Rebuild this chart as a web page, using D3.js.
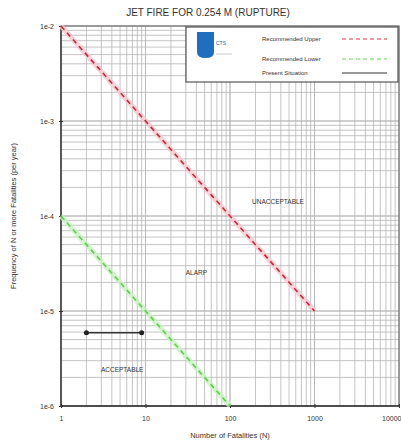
<!DOCTYPE html>
<html><head><meta charset="utf-8">
<script src="https://cdn.jsdelivr.net/npm/d3@7"></script>
<style>body{margin:0;background:#fff;}svg{display:block;font-family:"Liberation Sans",Arial,sans-serif;}</style>
</head><body>
<svg id="c" width="401" height="445"></svg>
<script>
const title = "JET FIRE FOR 0.254 M (RUPTURE)";
const xTicks = [1, 10, 100, 1000, 10000];
const yTicks = [1e-2, 1e-3, 1e-4, 1e-5, 1e-6];
const yTickLabels = ["1e-2", "1e-3", "1e-4", "1e-5", "1e-6"];
const upperN = [1, 1000];
const upperF = [1e-2, 1e-5];
const lowerN = [1, 100];
const lowerF = [1e-4, 1e-6];
const presentN = [2, 9];
const presentF = [5.9e-6, 5.9e-6];
const regionLabels = ["UNACCEPTABLE", "ALARP", "ACCEPTABLE"];
const regionN = [370, 40, 5.3];
const regionF = [1.38e-4, 2.5e-5, 2.35e-6];
const legendLabels = ["Recommended Upper", "Recommended Lower", "Present Situation"];

const svg = d3.select("#c");
const m = {l: 61, r: 399, t: 26, b: 406};
const x = d3.scaleLog().domain([1, 10000]).range([m.l, m.r]);
const y = d3.scaleLog().domain([1e-6, 1e-2]).range([m.b, m.t]);

// minor grid
const g = svg.append("g");
const xMinor = [];
for (let d = 1; d < 10000; d *= 10) for (let k = 1; k <= 10; k++) xMinor.push(d * k);
const yMinor = [];
for (let d = 1e-6; d < 1e-2 * 0.999; d *= 10) for (let k = 1; k <= 10; k++) yMinor.push(d * k);
g.selectAll(".xg").data(xMinor).enter().append("line")
  .attr("x1", d => x(d)).attr("x2", d => x(d)).attr("y1", m.t).attr("y2", m.b)
  .attr("stroke", "#b5b5b5").attr("stroke-width", 0.8);
g.selectAll(".yg").data(yMinor).enter().append("line")
  .attr("y1", d => y(d)).attr("y2", d => y(d)).attr("x1", m.l).attr("x2", m.r)
  .attr("stroke", "#b5b5b5").attr("stroke-width", 0.8);

// frame
svg.append("rect").attr("x", m.l).attr("y", m.t).attr("width", m.r - m.l).attr("height", m.b - m.t)
  .attr("fill", "none").attr("stroke", "#555").attr("stroke-width", 1);
svg.append("line").attr("x1", m.l).attr("x2", m.l).attr("y1", m.t).attr("y2", m.b).attr("stroke", "#333").attr("stroke-width", 1.3);
svg.append("line").attr("x1", m.l).attr("x2", m.r).attr("y1", m.b).attr("y2", m.b).attr("stroke", "#333").attr("stroke-width", 1.3);

// axes
const xAxis = d3.axisBottom(x).tickValues(xTicks).tickFormat(d3.format("d")).tickSize(4);
const xa = svg.append("g").attr("transform", `translate(0,${m.b})`).call(xAxis);
xa.select(".domain").remove();
xa.selectAll("text").attr("font-size", 7).attr("fill", "#333").attr("dy", "1.1em")
  .attr("text-anchor", d => d === 10000 ? "end" : "middle").attr("x", d => d === 10000 ? 2 : 0);
xa.selectAll("line").attr("stroke", "#333").attr("transform", "translate(0,-2)");
const yAxis = d3.axisLeft(y).tickValues(yTicks).tickFormat((d, i) => yTickLabels[i]).tickSize(4);
const ya = svg.append("g").attr("transform", `translate(${m.l},0)`).call(yAxis);
ya.select(".domain").remove();
ya.selectAll("text").attr("font-size", 7).attr("fill", "#333");
ya.selectAll("line").attr("stroke", "#333").attr("transform", "translate(2,0)");

// lines
const line = d3.line().x(d => x(d[0])).y(d => y(d[1]));
const up = d3.zip(upperN, upperF), lo = d3.zip(lowerN, lowerF), pr = d3.zip(presentN, presentF);
svg.append("path").attr("d", line(up)).attr("stroke", "#f7c5cc").attr("stroke-width", 5).attr("fill", "none").attr("opacity", 0.8);
svg.append("path").attr("d", line(up)).attr("stroke", "#c8283c").attr("stroke-width", 1.6).attr("stroke-dasharray", "5,4").attr("fill", "none");
svg.append("path").attr("d", line(lo)).attr("stroke", "#c8f2c0").attr("stroke-width", 5).attr("fill", "none").attr("opacity", 0.8);
svg.append("path").attr("d", line(lo)).attr("stroke", "#5fcf4a").attr("stroke-width", 1.6).attr("stroke-dasharray", "5,4").attr("fill", "none");
svg.append("path").attr("d", line(pr)).attr("stroke", "#333").attr("stroke-width", 1.5).attr("fill", "none");
svg.selectAll(".pt").data(pr).enter().append("circle").attr("cx", d => x(d[0])).attr("cy", d => y(d[1])).attr("r", 2.5).attr("fill", "#222");

// region labels
svg.selectAll(".rl").data(regionLabels).enter().append("text")
  .attr("x", (d, i) => x(regionN[i])).attr("y", (d, i) => y(regionF[i]))
  .attr("text-anchor", "middle").attr("dominant-baseline", "middle")
  .attr("font-size", 6.5).attr("fill", "#333").text(d => d);

// title
svg.append("text").attr("x", 208).attr("y", 16).attr("text-anchor", "middle").attr("font-size", 10).attr("fill", "#333").text(title);
// axis titles
svg.append("text").attr("x", 230).attr("y", 438).attr("text-anchor", "middle").attr("font-size", 7.5).attr("fill", "#333").text("Number of Fatalities (N)");
svg.append("text").attr("transform", "translate(16,216) rotate(-90)").attr("text-anchor", "middle").attr("font-size", 7.5).attr("fill", "#333").text("Frequency of N or more Fatalities (per year)");

// legend
const lg = svg.append("g");
lg.append("rect").attr("x", 186).attr("y", 27).attr("width", 212).attr("height", 55).attr("fill", "#fff").attr("stroke", "#555").attr("stroke-width", 1.2);
// logo
lg.append("path").attr("d", "M197,32 h17 v20 q0,6 -8.5,6 q-8.5,0 -8.5,-6 z").attr("fill", "#1f6fc0");
lg.append("text").attr("x", 216).attr("y", 45).attr("font-size", 5).attr("fill", "#2060a0").text("CTS");
lg.append("line").attr("x1", 216).attr("x2", 232).attr("y1", 54).attr("y2", 54).attr("stroke", "#ccc").attr("stroke-width", 1);
const ly = [39, 59, 73];
const lstroke = ["#d8354a", "#6cd35a", "#333"];
const ldash = ["4,3", "4,3", null];
lg.selectAll(".lt").data(legendLabels).enter().append("text")
  .attr("x", 262).attr("y", (d, i) => ly[i]).attr("dominant-baseline", "middle")
  .attr("font-size", 6).attr("fill", "#333").text(d => d);
lg.selectAll(".ll").data(legendLabels).enter().append("line")
  .attr("x1", 342).attr("x2", 387).attr("y1", (d, i) => ly[i]).attr("y2", (d, i) => ly[i])
  .attr("stroke", (d, i) => lstroke[i]).attr("stroke-width", 1).attr("stroke-dasharray", (d, i) => ldash[i]);
</script>
</body></html>
